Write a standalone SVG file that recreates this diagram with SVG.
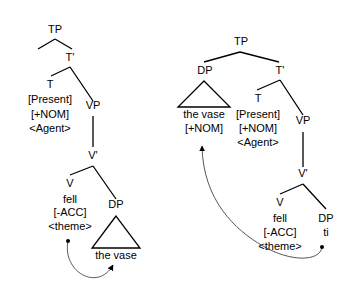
<svg xmlns="http://www.w3.org/2000/svg" width="354" height="288" viewBox="0 0 354 288">
<defs>
<marker id="arr" viewBox="0 0 10 10" refX="9" refY="5" markerWidth="6" markerHeight="6" markerUnits="userSpaceOnUse" orient="auto">
<path d="M0,0 L10,5 L0,10 z" fill="#000"/>
</marker>
<style>
text{font-family:"Liberation Sans",Arial,sans-serif;font-size:11px;text-anchor:middle;fill:#000}
.e{stroke:#000;stroke-width:1.3;fill:none}
.tri{stroke:#000;stroke-width:1.3;fill:#fff}
.mv{stroke:#444;stroke-width:0.9;fill:none}
</style>
</defs>
<rect width="354" height="288" fill="#fff"/>
<g id="connectors">
<path class="e" d="M55,39 L38,49 M55,39 L72,49 M70,67 L51,76 M70,67 L93,101 M93,116 L93,147 M93,166 L70,175 M93,166 L116,199"/>
<path class="e" d="M240,52 L204,62 M240,52 L279,62 M280,80 L257,90 M280,80 L303,115 M303,132 L303,167 M303,184 L280,194 M303,184 L326,209"/>
<path class="mv" d="M68,241 C62,272 98,292 113,265" marker-end="url(#arr)"/>
<path class="mv" d="M322,247 C320,262 290,262 263,246 C235,230 203,200 202,146" marker-end="url(#arr)"/>
<circle cx="68" cy="241" r="2" fill="#000"/>
<circle cx="322" cy="247" r="2" fill="#000"/>
</g>
<g id="L-TP"><text x="55" y="33">TP</text></g>
<g id="L-Tbar"><text x="70" y="61">T'</text></g>
<g id="L-T"><text x="50" y="88">T</text><text x="50" y="103">[Present]</text><text x="50" y="118">[+NOM]</text><text x="50" y="132">&lt;Agent&gt;</text></g>
<g id="L-VP"><text x="93" y="109">VP</text></g>
<g id="L-Vbar"><text x="93" y="159">V'</text></g>
<g id="L-V"><text x="70" y="187">V</text><text x="70" y="203">fell</text><text x="70" y="216">[-ACC]</text><text x="70" y="230">&lt;theme&gt;</text></g>
<g id="L-DP"><text x="116" y="208">DP</text><polygon class="tri" points="116,216 92,248 140,248"/><text x="116" y="259">the vase</text></g>
<g id="R-TP"><text x="241" y="45">TP</text></g>
<g id="R-DP"><text x="205" y="74">DP</text><polygon class="tri" points="204,81 178,107 230,107"/><text x="204" y="118">the vase</text><text x="204" y="132">[+NOM]</text></g>
<g id="R-Tbar"><text x="280" y="74">T'</text></g>
<g id="R-T"><text x="258" y="102">T</text><text x="258" y="118">[Present]</text><text x="258" y="132">[+NOM]</text><text x="258" y="146">&lt;Agent&gt;</text></g>
<g id="R-VP"><text x="303" y="124">VP</text></g>
<g id="R-Vbar"><text x="303" y="177">V'</text></g>
<g id="R-V"><text x="280" y="206">V</text><text x="280" y="222">fell</text><text x="280" y="236">[-ACC]</text><text x="280" y="250">&lt;theme&gt;</text></g>
<g id="R-DP2"><text x="326" y="222">DP</text><text x="326" y="236">ti</text></g>
</svg>
